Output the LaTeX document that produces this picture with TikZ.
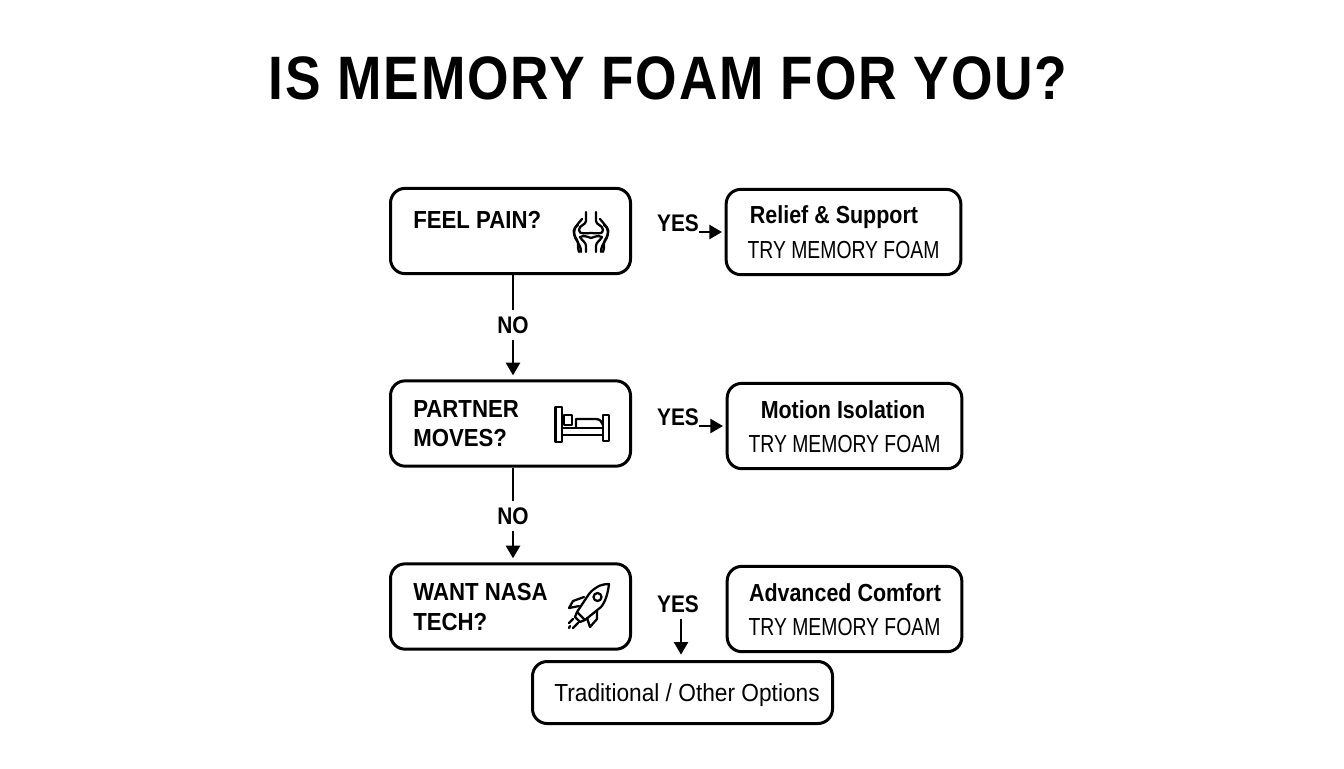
\documentclass[tikz,border=0pt]{standalone}
\usepackage{fontspec}
\setmainfont{Liberation Sans}
\newfontfamily\titlefont[LetterSpace=3,FakeStretch=0.87]{Liberation Sans}
\newfontfamily\headfont[FakeStretch=0.87]{Liberation Sans}
\newfontfamily\questfont[FakeStretch=0.9]{Liberation Sans}
\newfontfamily\thinfont[FakeStretch=0.785]{Liberation Sans}
\newfontfamily\otherfont[FakeStretch=0.92]{Liberation Sans}
\usetikzlibrary{arrows.meta}
\usetikzlibrary{positioning}
\tikzset{
  box/.style={draw, line width=2.25pt, rounded corners=11pt, inner sep=0pt},
  qbox/.style={box, minimum width=180pt, minimum height=64pt},
  rbox/.style={box, minimum width=176pt, minimum height=64pt},
  qlabel/.style={anchor=west, align=left, inner sep=0pt, font=\questfont\fontsize{18.5}{22}\selectfont\bfseries},
  rhead/.style={inner sep=0pt, font=\headfont\fontsize{18.5}{22}\selectfont\bfseries},
  rtext/.style={inner sep=0pt, font=\thinfont\fontsize{18.5}{22}\selectfont},
  answer/.style={inner sep=5pt, font=\headfont\fontsize{18}{22}\selectfont\bfseries},
  link/.style={line width=1.9pt},
  icon/.style={line width=1.7pt, line cap=round, line join=round},
  >={Triangle[length=9.5pt,width=10.5pt]}
}
\begin{document}
\begin{tikzpicture}[x=0.75pt,y=-0.75pt]
  \useasboundingbox (0,0) rectangle (1344,768);

  \node [inner sep=0pt, font=\titlefont\fontsize{46}{56}\selectfont\bfseries] (title) at (668,78) {IS MEMORY FOAM FOR YOU?};

  % questions
  \node [qbox] (q1) at (510.5,231) {};
  \node [qbox] (q2) at (510.5,423.5) {};
  \node [qbox] (q3) at (510.5,606.5) {};
  \node [qlabel] (q1label) at (413,220) {FEEL PAIN?};
  \node [qlabel] (q2label) at (413,423.5) {PARTNER\\MOVES?};
  \node [qlabel] (q3label) at (413,607) {WANT NASA\\TECH?};

  % results
  \node [rbox] (r1) at (843.5,232) {};
  \node [rbox] (r2) at (844.5,426) {};
  \node [rbox] (r3) at (844.5,609) {};
  \node [rhead] (r1head) at (834,217) {Relief \& Support};
  \node [rtext] (r1text) at (843.5,250) {TRY MEMORY FOAM};
  \node [rhead] (r2head) at (843,410) {Motion Isolation};
  \node [rtext] (r2text) at (844.5,444) {TRY MEMORY FOAM};
  \node [rhead] (r3head) at (845,593) {Advanced Comfort};
  \node [rtext] (r3text) at (844.5,627) {TRY MEMORY FOAM};

  \node [box, minimum width=225pt, minimum height=46.5pt] (other) at (682.5,692.5) {};
  \node [inner sep=0pt, font=\otherfont\fontsize{18.5}{22}\selectfont] (otherlabel) at (687,695) {Traditional / Other Options};

  % connectors
  \node [answer] (no1) at (513,325) {NO};
  \node [answer] (no2) at (513,516) {NO};
  \draw [link] (no1 |- q1.south) -- (no1);
  \draw [link, ->, shorten >=3pt] (no1) -- (no1 |- q2.north);
  \draw [link] (no2 |- q2.south) -- (no2);
  \draw [link, ->, shorten >=3pt] (no2) -- (no2 |- q3.north);

  \node [answer, inner sep=0pt] (yes1) at (678,223) {YES};
  \node [answer, inner sep=0pt] (yes2) at (678,417) {YES};
  \node [answer] (yes3) at (678,604) {YES};
  \draw [link, ->, shorten >=2pt] (yes1.east |- r1.west) -- (r1.west);
  \draw [link, ->, shorten >=2pt] (yes2.east |- r2.west) -- (r2.west);
  \draw [link, ->, shorten >=4pt] (yes3.south -| 681,0) -- (681,0 |- other.north);

  % knee
  \foreach \side in {-1,1} {
    \begin{scope}[xshift=591*0.75pt, xscale=\side]
      \draw [icon] (-5,212) -- (-5,221) .. controls (-5,225) and (-12,225) .. (-12,230) .. controls (-12,235) and (-5,233) .. (0,233);
      \draw [icon] (-11,237) .. controls (-7,235) and (-3,237) .. (0,238);
      \draw [icon] (-5,252) -- (-5,246) .. controls (-5,242) and (-9,241) .. (-11,237);
      \draw [icon] (-9,219) .. controls (-13,224) and (-17,227) .. (-17,233) .. controls (-17,240) and (-10,243) .. (-10,252);
      \draw [icon] (-13,225) .. controls (-18,228) and (-19,232) .. (-14,240) .. controls (-12,243) and (-14,247) .. (-12,252);
    \end{scope}
  }

  % bed
  \draw [icon] (555.5,407) rectangle (562,442);
  \draw [icon] (603,415) rectangle (609,441);
  \draw [icon] (562,428) -- (603,428) (562,435) -- (603,435);
  \draw [icon] (564,415) rectangle (572,425);
  \draw [icon] (576,428) -- (576,419) -- (596,419) .. controls (600,419) and (602,422) .. (603,425);

  % rocket
  \draw [icon] (609,584) .. controls (600,584) and (594,588) .. (589,594) -- (577,612) -- (585,620) -- (601,607) .. controls (606,601) and (608,592) .. (609,584) -- cycle;
  \draw [icon] (597.5,597) circle [radius=4];
  \draw [icon] (584,597) -- (573,601) -- (569,608) -- (579,606);
  \draw [icon] (597,611) -- (597,619) -- (590,627) -- (587,618);
  \draw [icon] (577,612) -- (575,617) -- (580,622) -- (585,620);
  \draw [icon] (573,619) -- (569,623) (578,623) -- (573,628) (570,626) -- (569,628);
\end{tikzpicture}
\end{document}
